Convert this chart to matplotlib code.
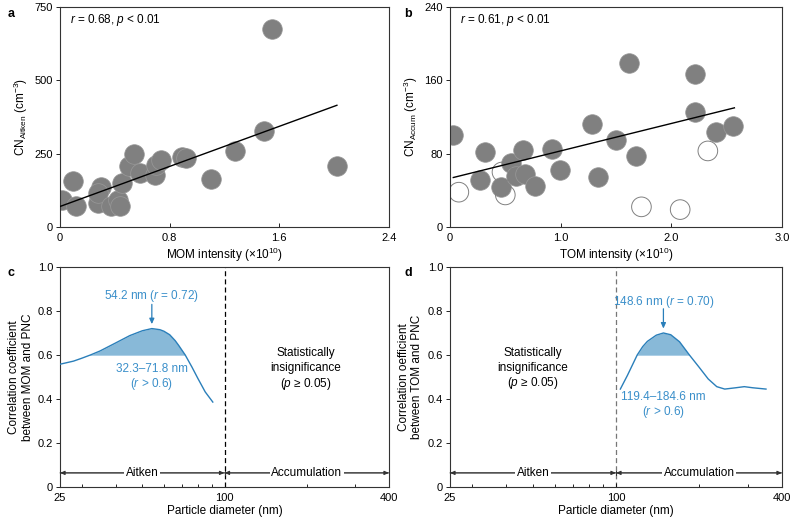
import matplotlib
matplotlib.use("Agg")
import matplotlib.pyplot as plt
import numpy as np

plt.rcParams['font.family'] = ['Liberation Sans', 'DejaVu Sans']
plt.rcParams['font.size'] = 8
plt.rcParams['axes.linewidth'] = 0.8
plt.rcParams['mathtext.fontset'] = 'custom'
plt.rcParams['mathtext.rm'] = 'Liberation Sans'
plt.rcParams['mathtext.it'] = 'Liberation Sans:italic'
plt.rcParams['mathtext.bf'] = 'Liberation Sans:bold'

# ---- Panel a data ----
mom_x = [0.012, 0.097, 0.114, 0.28, 0.30, 0.28, 0.37, 0.42, 0.44, 0.45, 0.50, 0.54,
         0.58, 0.69, 0.70, 0.74, 0.89, 0.92, 1.10, 1.28, 1.486, 1.55, 2.02]
mom_y = [91, 157, 70, 81, 136, 115, 70, 91, 70, 149, 207, 248,
         184, 176, 210, 227, 239, 236, 165, 259, 327, 676, 208]
fit_a_x = [0.0, 2.02]
fit_a_y = [70, 415]

# ---- Panel b data ----
tom_x = [0.027, 0.27, 0.32, 0.46, 0.55, 0.60, 0.68, 0.66, 0.77, 0.92, 0.99, 1.28,
         1.34, 1.50, 1.62, 1.68, 2.21, 2.21, 2.40, 2.56]
tom_y = [100, 51, 82, 44, 70, 56, 58, 84, 45, 85, 62, 112,
         55, 95, 179, 78, 167, 125, 104, 110]
tom_open_x = [0.08, 0.47, 0.50, 1.73, 2.08, 2.33]
tom_open_y = [38, 60, 35, 22, 19, 83]
fit_b_x = [0.03, 2.57]
fit_b_y = [54, 130]

# ---- Panel c data ----
c_d = [25, 28, 30, 32.3, 35, 40, 45, 50, 54.2, 58, 60, 63, 66, 68, 71.8, 76, 80, 85, 90.6]
c_r = [0.558, 0.572, 0.585, 0.600, 0.618, 0.655, 0.688, 0.710, 0.720, 0.715, 0.708, 0.692,
       0.665, 0.643, 0.600, 0.545, 0.492, 0.432, 0.386]

# ---- Panel d data ----
d_d = [103.7, 110, 119.4, 125, 130, 140, 148.6, 158, 170, 184.6, 200, 216, 232, 248,
       272, 292, 313, 350]
d_r = [0.445, 0.507, 0.600, 0.638, 0.662, 0.690, 0.700, 0.692, 0.660, 0.600, 0.545, 0.491,
       0.456, 0.445, 0.451, 0.456, 0.451, 0.445]

LINE = '#2a7fba'
FILL = '#88b9d8'
TXT = '#3a8fca'

fig = plt.figure(figsize=(7.96, 5.19), dpi=100)
ax_a = fig.add_axes([0.0754, 0.5626, 0.4133, 0.4239])
ax_b = fig.add_axes([0.5653, 0.5626, 0.4171, 0.4239])
ax_c = fig.add_axes([0.0754, 0.0617, 0.4133, 0.4239])
ax_d = fig.add_axes([0.5653, 0.0617, 0.4171, 0.4239])

def style(ax):
    ax.tick_params(axis='x', direction='in', length=3, width=0.6, pad=4, labelsize=8)
    ax.tick_params(axis='y', direction='out', length=3, width=0.6, pad=2, labelsize=8)
    ax.tick_params(which='minor', axis='x', direction='in', length=2.5, width=0.6)
    for s in ax.spines.values():
        s.set_color('#333333')

ms = 200
# Panel a
ax_a.scatter(mom_x, mom_y, s=ms, facecolor='#808080', edgecolor='#999999', linewidth=0.5, zorder=2)
ax_a.plot(fit_a_x, fit_a_y, color='black', lw=1.0, zorder=3)
ax_a.set_xlim(0, 2.4)
ax_a.set_ylim(0, 750)
ax_a.set_xticks([0, 0.8, 1.6, 2.4])
ax_a.set_xticklabels(['0', '0.8', '1.6', '2.4'])
ax_a.set_yticks([0, 250, 500, 750])
ax_a.set_xlabel('MOM intensity (×10$^{10}$)', labelpad=2, fontsize=8.5)
ax_a.set_ylabel('CN$_{\\mathrm{Aitken}}$ (cm$^{-3}$)', labelpad=3, fontsize=8.5)
ax_a.text(0.03, 0.94, '$r$ = 0.68, $p$ < 0.01', transform=ax_a.transAxes, va='center', ha='left',
          fontsize=8.5)
style(ax_a)

# Panel b
ax_b.scatter(tom_x, tom_y, s=ms, facecolor='#808080', edgecolor='#999999', linewidth=0.5, zorder=2)
ax_b.scatter(tom_open_x, tom_open_y, s=ms, facecolor='none', edgecolor='#808080', linewidth=0.7, zorder=2)
ax_b.plot(fit_b_x, fit_b_y, color='black', lw=1.0, zorder=3)
ax_b.set_xlim(0, 3.0)
ax_b.set_ylim(0, 240)
ax_b.set_xticks([0, 1.0, 2.0, 3.0])
ax_b.set_xticklabels(['0', '1.0', '2.0', '3.0'])
ax_b.set_yticks([0, 80, 160, 240])
ax_b.set_xlabel('TOM intensity (×10$^{10}$)', labelpad=2, fontsize=8.5)
ax_b.set_ylabel('CN$_{\\mathrm{Accum}}$ (cm$^{-3}$)', labelpad=3, fontsize=8.5)
ax_b.text(0.03, 0.94, '$r$ = 0.61, $p$ < 0.01', transform=ax_b.transAxes, va='center', ha='left',
          fontsize=8.5)
style(ax_b)

def region_arrows(ax, dash_color):
    ax.axvline(100, color=dash_color, ls=(0, (4, 2.5)), lw=0.9, zorder=1)
    y = 0.064
    for (x0, x1, label, xm) in [(25, 100, 'Aitken', 50), (100, 400, 'Accumulation', 200)]:
        ax.annotate('', xy=(x0, y), xytext=(x1, y),
                    arrowprops=dict(arrowstyle='|-|,widthA=0.2,widthB=0.2', color='#333333', lw=0.7,
                                    shrinkA=0, shrinkB=0))
        ax.annotate('', xy=(x0, y), xytext=(x1, y),
                    arrowprops=dict(arrowstyle='<|-|>,head_length=0.35,head_width=0.15', color='#333333',
                                    lw=0.7, shrinkA=0, shrinkB=0))
        ax.text(xm, y, label, ha='center', va='center', fontsize=8.5,
                bbox=dict(facecolor='white', edgecolor='none', pad=1.0))

def log_axis(ax):
    ax.set_xscale('log')
    ax.set_xlim(25, 400)
    ax.set_ylim(0, 1.0)
    ax.set_xticks([25, 100, 400])
    ax.set_xticklabels(['25', '100', '400'])
    ax.set_xticks([30, 40, 50, 60, 70, 80, 90, 200, 300], minor=True)
    ax.set_xticklabels([], minor=True)
    ax.set_yticks([0, 0.2, 0.4, 0.6, 0.8, 1.0])
    ax.set_yticklabels(['0', '0.2', '0.4', '0.6', '0.8', '1.0'])
    ax.set_xlabel('Particle diameter (nm)', fontsize=8.5, labelpad=2)

# Panel c
log_axis(ax_c)
cd = np.array(c_d); cr = np.array(c_r)
ax_c.plot(cd, cr, color=LINE, lw=1.0, zorder=3)
ax_c.fill_between(cd, 0.6, cr, where=cr >= 0.6, color=FILL, lw=0, interpolate=True, zorder=2)
ax_c.plot([32.3, 71.8], [0.6, 0.6], color='#a9cde6', lw=0.6, zorder=2)
region_arrows(ax_c, 'black')
ax_c.annotate('', xy=(54.2, 0.74), xytext=(54.2, 0.83),
              arrowprops=dict(arrowstyle='-|>,head_length=0.4,head_width=0.18', color=LINE, lw=0.9,
                              shrinkA=0, shrinkB=0))
ax_c.text(54.2, 0.868, '54.2 nm ($r$ = 0.72)', color=TXT, ha='center', va='center', fontsize=8.5)
ax_c.text(54.2, 0.538, '32.3–71.8 nm', color=TXT, ha='center', va='center', fontsize=8.5)
ax_c.text(54.2, 0.470, '($r$ > 0.6)', color=TXT, ha='center', va='center', fontsize=8.5)
ax_c.text(198, 0.61, 'Statistically', ha='center', va='center', fontsize=8.5)
ax_c.text(198, 0.54, 'insignificance', ha='center', va='center', fontsize=8.5)
ax_c.text(198, 0.47, '($p$ ≥ 0.05)', ha='center', va='center', fontsize=8.5)
ax_c.set_ylabel('Correlation coefficient\nbetween MOM and PNC', fontsize=8.5, labelpad=3)
style(ax_c)

# Panel d
log_axis(ax_d)
dd = np.array(d_d); dr = np.array(d_r)
ax_d.plot(dd, dr, color=LINE, lw=1.0, zorder=3)
ax_d.fill_between(dd, 0.6, dr, where=dr >= 0.6, color=FILL, lw=0, interpolate=True, zorder=2)
ax_d.plot([119.4, 184.6], [0.6, 0.6], color='#a9cde6', lw=0.6, zorder=2)
region_arrows(ax_d, '#777777')
ax_d.annotate('', xy=(148.6, 0.72), xytext=(148.6, 0.81),
              arrowprops=dict(arrowstyle='-|>,head_length=0.4,head_width=0.18', color=LINE, lw=0.9,
                              shrinkA=0, shrinkB=0))
ax_d.text(148.6, 0.84, '148.6 nm ($r$ = 0.70)', color=TXT, ha='center', va='center', fontsize=8.5)
ax_d.text(148.6, 0.407, '119.4–184.6 nm', color=TXT, ha='center', va='center', fontsize=8.5)
ax_d.text(148.6, 0.339, '($r$ > 0.6)', color=TXT, ha='center', va='center', fontsize=8.5)
ax_d.text(50, 0.61, 'Statistically', ha='center', va='center', fontsize=8.5)
ax_d.text(50, 0.54, 'insignificance', ha='center', va='center', fontsize=8.5)
ax_d.text(50, 0.473, '($p$ ≥ 0.05)', ha='center', va='center', fontsize=8.5)
ax_d.set_ylabel('Correlation oefficient\nbetween TOM and PNC', fontsize=8.5, labelpad=3)
style(ax_d)

# Panel letters
for lbl, x, y in [('a', 0.010, 0.985), ('b', 0.508, 0.985), ('c', 0.010, 0.485), ('d', 0.508, 0.485)]:
    fig.text(x, y, lbl, fontsize=9, fontweight='bold', va='top', ha='left')

fig.savefig('out.png', dpi=100)
